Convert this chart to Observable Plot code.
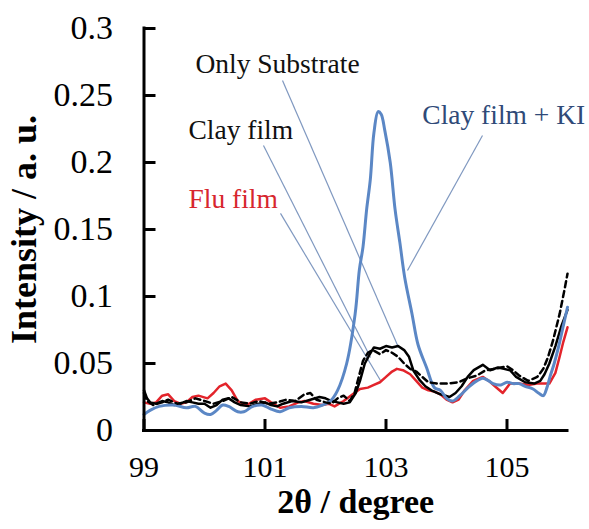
<!DOCTYPE html>
<html><head><meta charset="utf-8">
<script src="https://cdn.jsdelivr.net/npm/d3@7"></script>
<script src="https://cdn.jsdelivr.net/npm/@observablehq/plot@0.6"></script>
<style>body{margin:0;background:#fff}</style>
</head><body><div id="chart"></div>
<script>
// ---- tick values ----
const xTicks = [99, 101, 103, 105];
const yTicks = [0, 0.05, 0.1, 0.15, 0.2, 0.25, 0.3];

// ---- Clay film + KI (blue) ----
const kiX = [99.0,99.1,99.25,99.5,99.7,99.85,100.0,100.1,100.2,100.3,100.4,100.55,100.65,100.8,100.95,101.1,101.25,101.4,101.6,101.8,101.95,102.08,102.2,102.35,102.49,102.56,102.62,102.68,102.74,102.8,102.87,102.92,102.98,103.07,103.15,103.23,103.31,103.43,103.53,103.67,103.8,103.9,104.0,104.1,104.22,104.38,104.5,104.6,104.7,104.77,104.9,105.0,105.1,105.2,105.3,105.43,105.52,105.6,105.66,105.71,105.78,105.85,105.92,106.0];
const kiY = [0.012,0.015,0.018,0.019,0.017,0.018,0.013,0.012,0.015,0.019,0.018,0.014,0.014,0.018,0.019,0.016,0.014,0.017,0.018,0.017,0.019,0.022,0.03,0.05,0.087,0.12,0.137,0.165,0.187,0.222,0.238,0.236,0.224,0.2,0.165,0.14,0.114,0.087,0.064,0.047,0.032,0.03,0.024,0.022,0.026,0.033,0.037,0.039,0.037,0.035,0.034,0.036,0.035,0.035,0.033,0.031,0.028,0.026,0.032,0.04,0.05,0.062,0.076,0.092];

// ---- Clay film (black solid) ----
const clayX = [99.0,99.05,99.1,99.2,99.3,99.4,99.5,99.6,99.7,99.8,99.9,100.0,100.1,100.2,100.3,100.4,100.5,100.6,100.75,100.9,101.0,101.1,101.2,101.3,101.45,101.6,101.75,101.9,102.0,102.1,102.2,102.3,102.4,102.5,102.57,102.65,102.72,102.8,102.9,103.0,103.1,103.2,103.3,103.38,103.45,103.55,103.65,103.75,103.9,104.05,104.15,104.25,104.35,104.45,104.6,104.72,104.85,104.95,105.05,105.15,105.3,105.45,105.55,105.62,105.7,105.8,105.9,106.0];
const clayY = [0.03,0.024,0.021,0.02,0.022,0.021,0.019,0.02,0.022,0.021,0.02,0.02,0.017,0.019,0.023,0.024,0.021,0.019,0.018,0.02,0.021,0.019,0.018,0.02,0.022,0.021,0.023,0.025,0.024,0.022,0.021,0.02,0.021,0.028,0.037,0.05,0.056,0.062,0.061,0.063,0.062,0.063,0.06,0.055,0.045,0.038,0.033,0.03,0.027,0.025,0.028,0.033,0.04,0.045,0.049,0.045,0.047,0.046,0.045,0.04,0.036,0.035,0.037,0.042,0.05,0.063,0.078,0.09];

// ---- Only Substrate (black dashed) ----
const subX = [99.0,99.05,99.15,99.3,99.4,99.55,99.7,99.85,100.0,100.15,100.3,100.45,100.6,100.75,100.9,101.05,101.2,101.35,101.5,101.65,101.75,101.85,102.0,102.1,102.2,102.3,102.4,102.48,102.55,102.62,102.7,102.78,102.9,103.0,103.1,103.2,103.3,103.4,103.5,103.6,103.7,103.85,104.0,104.2,104.35,104.5,104.65,104.8,104.9,105.0,105.1,105.2,105.35,105.5,105.6,105.68,105.76,105.87,105.95,106.0];
const subY = [0.028,0.022,0.019,0.021,0.023,0.02,0.021,0.024,0.022,0.02,0.022,0.025,0.021,0.02,0.022,0.02,0.021,0.023,0.022,0.027,0.028,0.023,0.021,0.02,0.024,0.026,0.022,0.028,0.04,0.052,0.058,0.06,0.057,0.06,0.058,0.055,0.05,0.046,0.044,0.04,0.036,0.035,0.035,0.036,0.039,0.041,0.045,0.046,0.047,0.048,0.045,0.041,0.037,0.04,0.046,0.055,0.067,0.087,0.105,0.117];

// ---- Flu film (red) ----
const fluX = [99.0,99.1,99.2,99.3,99.4,99.5,99.6,99.7,99.8,99.9,100.05,100.15,100.25,100.35,100.45,100.55,100.7,100.85,101.0,101.1,101.25,101.4,101.55,101.65,101.8,101.95,102.05,102.15,102.3,102.45,102.57,102.7,102.8,102.9,103.0,103.1,103.18,103.28,103.4,103.5,103.6,103.7,103.8,103.9,104.0,104.1,104.2,104.3,104.44,104.6,104.7,104.8,104.93,105.05,105.2,105.35,105.5,105.7,105.8,105.87,105.93,106.0];
const fluY = [0.021,0.02,0.021,0.026,0.027,0.022,0.02,0.021,0.025,0.026,0.024,0.028,0.033,0.035,0.03,0.022,0.019,0.023,0.024,0.021,0.017,0.018,0.021,0.022,0.02,0.019,0.02,0.018,0.022,0.027,0.031,0.032,0.034,0.036,0.04,0.044,0.046,0.045,0.042,0.037,0.032,0.03,0.029,0.027,0.023,0.021,0.023,0.03,0.037,0.04,0.037,0.033,0.028,0.035,0.035,0.034,0.035,0.035,0.043,0.055,0.066,0.077];

// ---- annotations ----
const labelText = ["Only Substrate", "Clay film", "Flu film", "Clay film + KI"];
const labelX = [99.85, 99.735, 99.735, 103.6];
const labelY = [0.2736, 0.2243, 0.1728, 0.2355];
const labelColor = ["#111111", "#111111", "#d7262e", "#2f4a78"];
const leaderX1 = [101.289, 100.975, 101.256, 104.595];
const leaderY1 = [0.2612, 0.2127, 0.162, 0.2201];
const leaderX2 = [103.207, 102.744, 102.909, 103.355];
const leaderY2 = [0.0619, 0.0545, 0.0373, 0.1194];

const toRows = (xs, ys) => xs.map((x, i) => ({x, y: ys[i]}));
const labels = labelText.map((t, i) => ({t, x: labelX[i], y: labelY[i], c: labelColor[i]}));
const leaders = leaderX1.map((x1, i) => ({x1, y1: leaderY1[i], x2: leaderX2[i], y2: leaderY2[i]}));

const W = 589, H = 529, ML = 143.5, MR = 22, MT = 28, MB = 99;
const serif = "'Liberation Serif', 'Times New Roman', serif";

const chart = Plot.plot({
  width: W, height: H,
  marginLeft: ML, marginRight: MR, marginTop: MT, marginBottom: MB,
  x: {domain: [99, 106], label: null},
  y: {domain: [0, 0.3], label: null},
  style: {fontFamily: serif, fontSize: "32px", background: "white", color: "black"},
  marks: [
    Plot.link(leaders, {x1: "x1", y1: "y1", x2: "x2", y2: "y2", stroke: "#7f98c0", strokeWidth: 1.2}),
    Plot.line(toRows(fluX, fluY), {x: "x", y: "y", stroke: "#e3242b", strokeWidth: 2.5}),
    Plot.line(toRows(clayX, clayY), {x: "x", y: "y", stroke: "#000", strokeWidth: 2.5}),
    Plot.line(toRows(kiX, kiY), {x: "x", y: "y", stroke: "#5b87c5", strokeWidth: 3, curve: "catmull-rom"}),
    Plot.line(toRows(subX, subY), {x: "x", y: "y", stroke: "#000", strokeWidth: 2.5, strokeDasharray: "6,4"}),
    Plot.text(labels, {x: "x", y: "y", text: "t", fill: "c", textAnchor: "start", fontSize: 27.5, fontFamily: serif}),
    Plot.ruleX([99], {strokeWidth: 3, strokeLinecap: "square"}),
    Plot.ruleY([0], {strokeWidth: 3, strokeLinecap: "square"}),
    Plot.tickX(xTicks, {x: d => d, strokeWidth: 3, insetTop: (H - MT - MB) - 11}),
    Plot.tickY(yTicks, {y: d => d, strokeWidth: 3, insetRight: (W - ML - MR) - 12}),
    Plot.axisX(xTicks, {tickSize: 0, tickPadding: 25, fontSize: 30, fontFamily: serif, label: null}),
    Plot.axisY(yTicks, {tickSize: 0, tickPadding: 31, fontSize: 34, fontFamily: serif, label: null, tickFormat: d => String(+d.toFixed(2))}),
    Plot.text(["2θ / degree"], {frameAnchor: "bottom", dy: 82, fontWeight: "bold", fontSize: 34, fontFamily: serif}),
    Plot.text(["Intensity / a. u."], {frameAnchor: "left", textAnchor: "middle", dx: -120, rotate: -90, fontWeight: "bold", fontSize: 36, fontFamily: serif})
  ]
});
document.getElementById("chart").append(chart);
</script>
</body></html>
